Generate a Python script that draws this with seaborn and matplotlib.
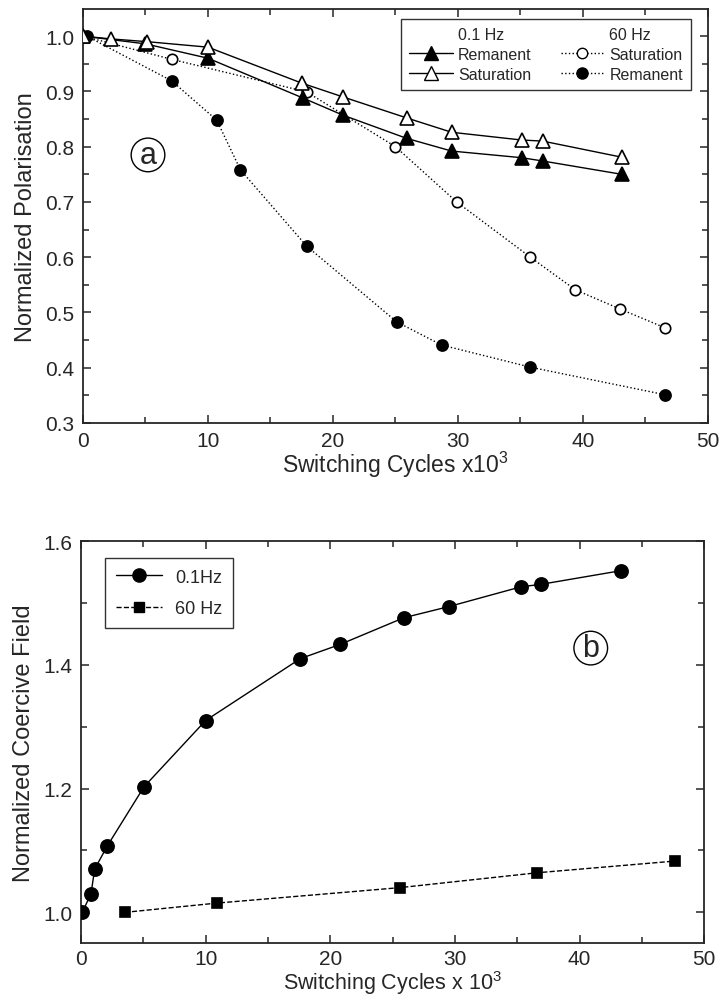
import numpy as np
import pandas as pd
import matplotlib
matplotlib.use('Agg')
import matplotlib.pyplot as plt
from matplotlib.lines import Line2D
from matplotlib.ticker import MultipleLocator, FormatStrFormatter
import seaborn as sns

# ---- panel (a): normalized polarisation ----
sat01_x = [0, 2.2, 5.1, 10.0, 17.5, 20.8, 25.9, 29.5, 35.1, 36.8, 43.1]
sat01_y = [1.0, 0.995, 0.99, 0.98, 0.915, 0.89, 0.852, 0.826, 0.812, 0.81, 0.781]
rem01_x = [0, 5.0, 10.0, 17.6, 20.8, 25.9, 29.5, 35.1, 36.8, 43.1]
rem01_y = [1.0, 0.986, 0.96, 0.888, 0.857, 0.815, 0.792, 0.78, 0.774, 0.75]
sat60_x = [0, 7.1, 17.9, 25.0, 29.9, 35.8, 39.4, 43.0, 46.6]
sat60_y = [1.0, 0.958, 0.899, 0.80, 0.70, 0.60, 0.541, 0.506, 0.472]
rem60_x = [0.3, 7.1, 10.7, 12.6, 17.9, 25.1, 28.7, 35.8, 46.6]
rem60_y = [1.0, 0.919, 0.848, 0.758, 0.62, 0.483, 0.441, 0.401, 0.351]

# ---- panel (b): normalized coercive field ----
ec01_x = [0.1, 0.8, 1.1, 2.1, 5.06, 10.0, 17.6, 20.8, 25.9, 29.5, 35.3, 36.9, 43.3]
ec01_y = [1.0, 1.03, 1.07, 1.107, 1.203, 1.31, 1.41, 1.433, 1.476, 1.494, 1.526, 1.53, 1.552]
ec60_x = [3.5, 10.9, 25.6, 36.6, 47.7]
ec60_y = [1.0, 1.015, 1.04, 1.064, 1.083]

sns.set_style("ticks")
plt.rcParams['font.family'] = ['Liberation Sans', 'DejaVu Sans']
plt.rcParams['mathtext.fontset'] = 'custom'
plt.rcParams['mathtext.rm'] = 'Liberation Sans'
plt.rcParams['axes.linewidth'] = 1.3

fig = plt.figure(figsize=(7.2, 10.03), dpi=100)
ax1 = fig.add_axes([0.1153, 0.5773, 0.8677, 0.4127])
ax2 = fig.add_axes([0.1125, 0.0585, 0.8655, 0.4011])

def series(ax, x, y, ls, marker, filled, ms):
    df = pd.DataFrame({'x': x, 'y': y})
    sns.lineplot(data=df, x='x', y='y', ax=ax, color='black', lw=1.0, linestyle=ls,
                 marker=marker, markersize=ms, markeredgecolor='black',
                 markerfacecolor='black' if filled else 'white', markeredgewidth=1.2,
                 sort=False, zorder=3)

series(ax1, sat60_x, sat60_y, ':', 'o', False, 7.5)
series(ax1, rem60_x, rem60_y, ':', 'o', True, 8)
series(ax1, rem01_x, rem01_y, '-', '^', True, 10)
series(ax1, sat01_x, sat01_y, '-', '^', False, 10)

series(ax2, ec01_x, ec01_y, '-', 'o', True, 9.5)
series(ax2, ec60_x, ec60_y, '--', 's', True, 7.5)

for ax in (ax1, ax2):
    ax.set_xlim(0, 50)
    ax.xaxis.set_major_locator(MultipleLocator(10))
    ax.xaxis.set_minor_locator(MultipleLocator(5))
    ax.tick_params(which='both', direction='in', top=True, right=True, labelsize=15, width=1.1)
    ax.tick_params(which='major', length=6, pad=6)
    ax.tick_params(which='minor', length=4)
ax2.tick_params(axis='x', which='major', pad=4)

ax1.set_ylim(0.3, 1.049)
ax1.yaxis.set_major_locator(MultipleLocator(0.1))
ax1.yaxis.set_minor_locator(MultipleLocator(0.05))
ax1.yaxis.set_major_formatter(FormatStrFormatter('%.1f'))
ax1.set_xlabel('Switching Cycles x10$^3$', fontsize=16.5, labelpad=-1)
ax1.set_ylabel('Normalized Polarisation', fontsize=17, labelpad=6)

ax2.set_ylim(0.95, 1.6)
ax2.yaxis.set_major_locator(MultipleLocator(0.2))
ax2.yaxis.set_minor_locator(MultipleLocator(0.1))
ax2.yaxis.set_major_formatter(FormatStrFormatter('%.1f'))
ax2.set_xlabel('Switching Cycles x 10$^3$', fontsize=15.5, labelpad=0)
ax2.set_ylabel('Normalized Coercive Field', fontsize=17, labelpad=6)

circ = dict(boxstyle='circle,pad=0.06', fc='white', ec='black', lw=1.0)
ax1.text(5.2, 0.785, 'a', fontsize=22, ha='center', va='center', bbox=circ)
ax2.text(40.9, 1.427, 'b', fontsize=22, ha='center', va='center', bbox=circ)

# legend (a): two columns with frequency headers
blank = Line2D([], [], color='none')
def h(ls, marker, filled, ms):
    return Line2D([], [], color='black', lw=1.0, linestyle=ls, marker=marker, markersize=ms,
                  markeredgecolor='black', markerfacecolor='black' if filled else 'white')
handles = [blank, h('-', '^', True, 10), h('-', '^', False, 10),
           blank, h(':', 'o', False, 7.5), h(':', 'o', True, 8)]
labels = ['0.1 Hz', 'Remanent', 'Saturation', '60 Hz', 'Saturation', 'Remanent']
leg = ax1.legend(handles, labels, ncol=2, loc='upper right', bbox_to_anchor=(0.973, 0.976),
                 borderaxespad=0, fontsize=11.5, frameon=True, fancybox=False, edgecolor='black',
                 handlelength=2.7, handletextpad=0.35, columnspacing=1.8,
                 labelspacing=0.3, borderpad=0.5)
leg.get_frame().set_linewidth(1.0)

leg2 = ax2.legend([h('-', 'o', True, 9.5), h('--', 's', True, 7.5)], ['0.1Hz', '60 Hz'],
                  loc='upper left', bbox_to_anchor=(0.038, 0.958), borderaxespad=0, fontsize=13,
                  frameon=True, fancybox=False, edgecolor='black',
                  handlelength=2.6, handletextpad=0.7, labelspacing=0.8, borderpad=0.6)
leg2.get_frame().set_linewidth(1.0)

fig.savefig('out.png', dpi=100)
